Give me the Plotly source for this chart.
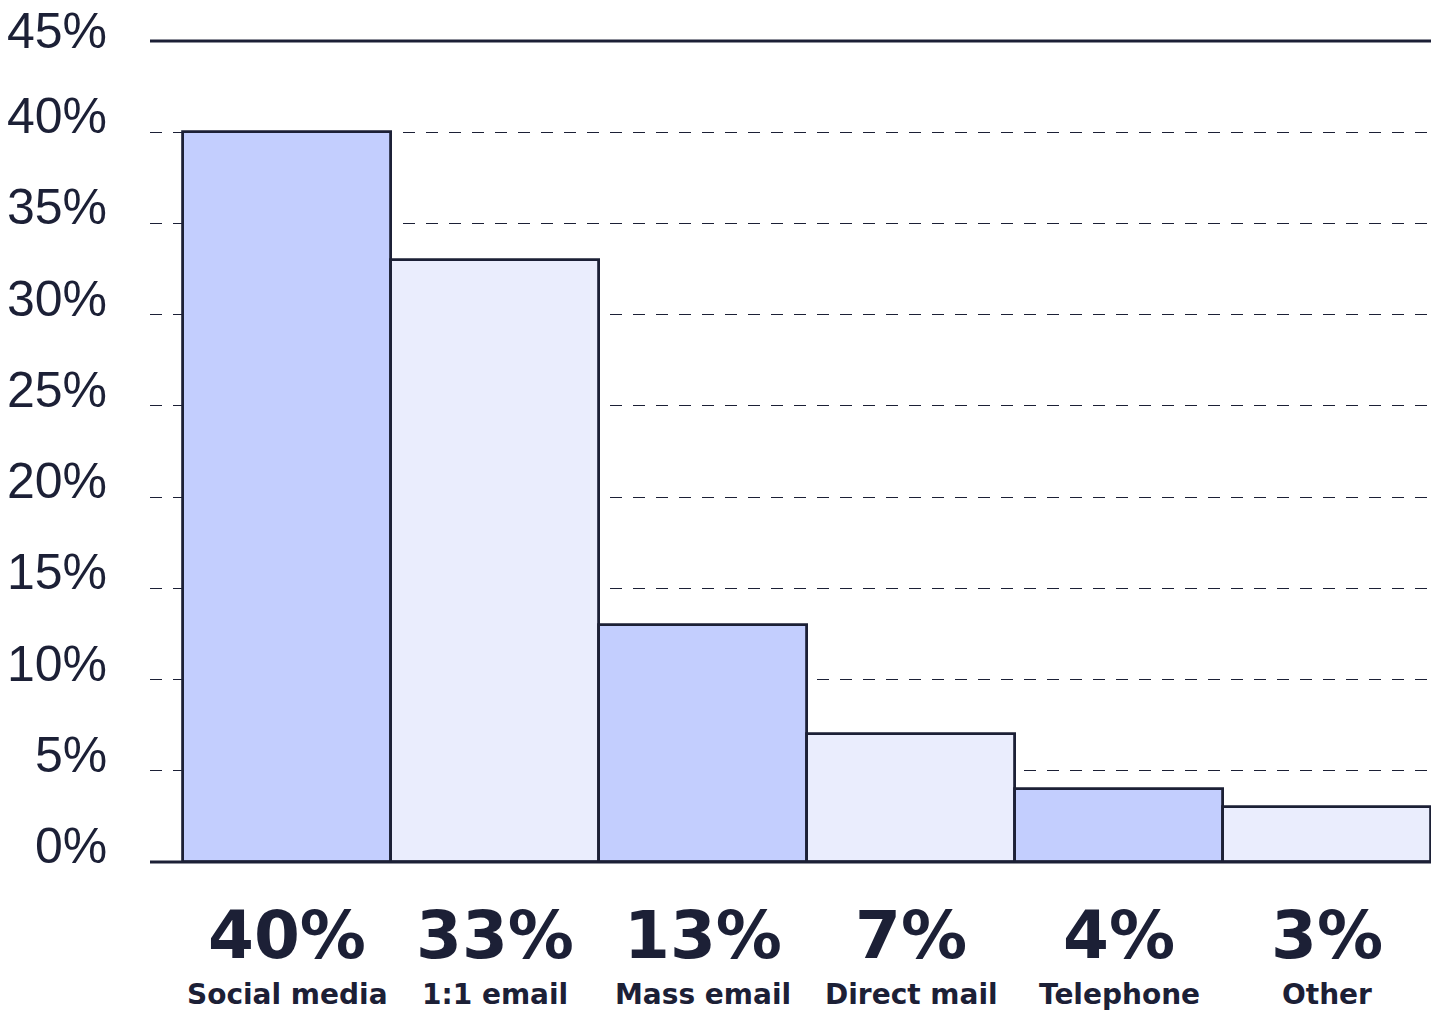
import plotly.graph_objects as go

categories = ["Social media", "1:1 email", "Mass email", "Direct mail", "Telephone", "Other"]
values = [40, 33, 13, 7, 4, 3]
value_labels = ["40%", "33%", "13%", "7%", "4%", "3%"]
tick_vals = [0, 5, 10, 15, 20, 25, 30, 35, 40, 45]
tick_labels = ["0%", "5%", "10%", "15%", "20%", "25%", "30%", "35%", "40%", "45%"]

DARK = "#1c2036"
colors = ["#c3cefe" if i % 2 == 0 else "#eaedfd" for i in range(len(values))]

fig = go.Figure()
fig.add_trace(go.Bar(
    x=list(range(len(categories))), y=values, width=1,
    marker=dict(color=colors, line=dict(color=DARK, width=2.8)),
    hoverinfo="skip",
))

# y tick labels as annotations sitting on gridlines
ymax = max(tick_vals)
for v, t in zip(tick_vals, tick_labels):
    if v == ymax:
        # keep the top label fully inside the page
        fig.add_annotation(x=0, xref="paper", y=1, yref="paper", text=t, showarrow=False,
                           xanchor="right", yanchor="top", xshift=-41, yshift=40,
                           font=dict(family="Liberation Sans, Arial", size=50, color=DARK))
    else:
        fig.add_annotation(x=0, xref="paper", y=v, yref="y", text=t, showarrow=False,
                           xanchor="right", yanchor="bottom", xshift=-41, yshift=-14,
                           font=dict(family="Liberation Sans, Arial", size=50, color=DARK))

# x labels
for i, (c, vl) in enumerate(zip(categories, value_labels)):
    fig.add_annotation(x=i, y=0, xref="x", yref="y", text="<b>%s</b>" % vl, showarrow=False,
                       xanchor="center", yanchor="middle", yshift=-73,
                       font=dict(family="DejaVu Sans", size=66, color=DARK))
    fig.add_annotation(x=i, y=0, xref="x", yref="y", text="<b>%s</b>" % c, showarrow=False,
                       xanchor="center", yanchor="middle", yshift=-132,
                       font=dict(family="DejaVu Sans", size=28, color=DARK))

fig.add_shape(type="line", xref="paper", x0=0, x1=1, yref="paper", y0=1, y1=1,
              line=dict(color=DARK, width=3))
fig.add_shape(type="line", xref="paper", x0=0, x1=1, yref="paper", y0=0, y1=0,
              line=dict(color=DARK, width=3), layer="above")

fig.update_layout(
    width=1434, height=1014,
    margin=dict(l=150, r=3, t=41, b=152),
    plot_bgcolor="white", paper_bgcolor="white",
    showlegend=False, bargap=0,
    xaxis=dict(range=[-0.66, 5.5], showticklabels=False, showgrid=False,
               zeroline=False, showline=False, fixedrange=True),
    yaxis=dict(range=[0, 45], tickvals=tick_vals, showticklabels=False,
               showgrid=True, gridcolor=DARK, gridwidth=1, griddash="12px,11px",
               zeroline=False, showline=False, fixedrange=True),
)

fig.write_html("out.html", config={"displayModeBar": False},
               post_script="document.body.style.margin='0';document.body.style.overflow='hidden';")
